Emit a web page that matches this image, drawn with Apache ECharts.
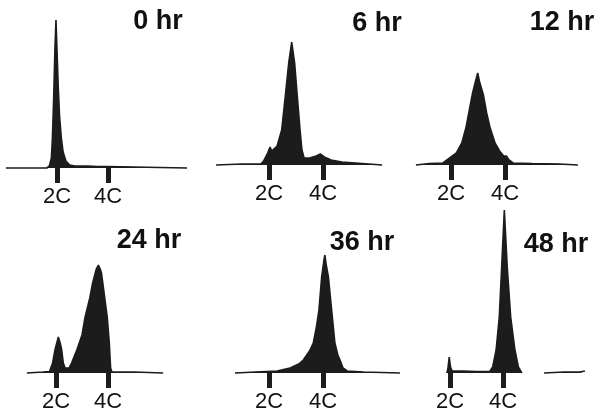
<!DOCTYPE html>
<html>
<head>
<meta charset="utf-8">
<script src="https://cdn.jsdelivr.net/npm/echarts@6/dist/echarts.min.js"></script>
<style>
  html, body { margin: 0; padding: 0; background: #fff; }
  #main { width: 597px; height: 418px; }
</style>
</head>
<body>
<div id="main"></div>
<script>
// panel names
var panelNames = ['0 hr', '6 hr', '12 hr', '24 hr', '36 hr', '48 hr'];
// DNA content ticks (2C, 4C)
var tickValues = [2, 4];
var tickNames = ['2C', '4C'];

// histograms: [DNA content, relative cell count]
var hr0 = [[0, 0], [1.6, 0], [1.7, 2], [1.78, 10], [1.82, 30], [1.87, 70], [1.92, 120], [1.96, 148],
  [2.0, 118], [2.05, 80], [2.1, 52], [2.17, 30], [2.24, 16], [2.35, 7], [2.5, 3], [2.7, 2],
  [3.2, 2], [3.6, 1.5], [3.95, 1.5], [4.0, 0], [7.1, 0]];
var hr6 = [[0.04, 0], [1.0, 1], [1.7, 1], [1.8, 4], [1.95, 12], [2.04, 18], [2.1, 14], [2.16, 13],
  [2.3, 19], [2.47, 35], [2.6, 68], [2.73, 102], [2.84, 123], [2.95, 102], [3.05, 68], [3.15, 35],
  [3.22, 15], [3.3, 7], [3.5, 7], [3.75, 9], [3.9, 11], [4.05, 8], [4.3, 5], [4.7, 3], [5.2, 2],
  [5.7, 1], [6.19, 0]];
var hr12 = [[0.7, 0], [1.2, 1.5], [1.7, 2], [1.8, 4], [1.95, 7], [2.2, 12], [2.4, 22], [2.56, 38],
  [2.7, 58], [2.8, 72], [2.92, 85], [2.99, 92], [3.05, 84], [3.1, 82], [3.2, 70], [3.32, 52],
  [3.44, 38], [3.63, 22], [3.8, 14], [3.95, 9], [4.05, 9], [4.15, 5], [4.3, 2], [5.0, 1.5],
  [6.0, 1], [6.7, 0]];
var hr24 = [[0.88, 0], [1.5, 1], [1.75, 1.5], [1.87, 10], [1.96, 23], [2.09, 36], [2.16, 30],
  [2.22, 23], [2.28, 10], [2.35, 5], [2.41, 3], [2.5, 5], [2.6, 10], [2.8, 23], [3.0, 38],
  [3.12, 56], [3.3, 75], [3.41, 90], [3.55, 104], [3.63, 108], [3.7, 104], [3.75, 100], [3.8, 90],
  [3.9, 70], [3.97, 56], [4.05, 30], [4.1, 5], [4.15, 1], [4.5, 1], [5.0, 1], [6.12, 0]];
var hr36 = [[0.74, 0], [1.5, 1], [2.3, 2], [2.78, 5], [3.1, 9], [3.27, 13], [3.5, 22], [3.64, 30],
  [3.75, 45], [3.85, 63], [3.95, 96], [4.03, 112], [4.07, 118], [4.12, 108], [4.2, 96], [4.32, 63],
  [4.44, 30], [4.55, 18], [4.63, 13], [4.74, 5], [4.9, 2], [5.5, 1], [6.85, 0]];
var hr48 = [[1.88, 0], [1.92, 4], [1.97, 16], [2.02, 6], [2.08, 2], [2.5, 2], [3.0, 1.5], [3.5, 1.5],
  [3.61, 6], [3.74, 23], [3.86, 56], [3.95, 106], [4.05, 163], [4.16, 106], [4.29, 56], [4.45, 23],
  [4.58, 6], [4.71, 0], [4.75, null], [5.55, 0], [6.3, 1], [6.9, 1], [7.09, 2]];
var histograms = [hr0, hr6, hr12, hr24, hr36, hr48];

// where each panel sits: x of 2C, px per unit, baseline y, title centre
var layout = [
  { p2: 57, s: 25.5, base: 168, tx: 158, ty: 22 },
  { p2: 269, s: 27, base: 165, tx: 377, ty: 24 },
  { p2: 451, s: 27, base: 165, tx: 562, ty: 23 },
  { p2: 56, s: 26, base: 373, tx: 149, ty: 241 },
  { p2: 269, s: 27, base: 373, tx: 362, ty: 243 },
  { p2: 450, s: 26.5, base: 373, tx: 556, ty: 245 }
];

var H = 165;
var XMAX = 7.2;
var ink = '#1c1c1c';

var grids = [], xAxes = [], yAxes = [], series = [], texts = [];
for (var i = 0; i < layout.length; i++) {
  var L = layout[i];
  grids.push({ left: L.p2 - 2 * L.s, width: XMAX * L.s, top: L.base - H, height: H });
  xAxes.push({
    type: 'value', gridIndex: i, min: 0, max: XMAX,
    splitLine: { show: false },
    axisLine: { show: false },
    axisTick: { show: true, customValues: tickValues, length: 15, lineStyle: { width: 5, color: ink } },
    axisLabel: {
      show: true, customValues: tickValues, margin: 18,
      fontFamily: 'Liberation Sans', fontSize: 22, color: '#111',
      formatter: function (v) { return tickNames[tickValues.indexOf(v)]; }
    }
  });
  yAxes.push({ type: 'value', gridIndex: i, min: 0, max: H, show: false, splitLine: { show: false } });
  series.push({
    type: 'line', xAxisIndex: i, yAxisIndex: i, data: histograms[i],
    symbol: 'none', clip: false, connectNulls: false,
    lineStyle: { color: ink, width: 1.6 },
    areaStyle: { color: ink, opacity: 1, origin: 'start' }
  });
  texts.push({
    type: 'text', x: L.tx, y: L.ty,
    style: {
      text: panelNames[i], fontFamily: 'Liberation Sans', fontWeight: 'bold', fontSize: 27,
      fill: '#111', align: 'center', verticalAlign: 'middle'
    }
  });
}

var myChart = echarts.init(document.getElementById('main'), null, { renderer: 'canvas' });
var option = {
  backgroundColor: '#fff',
  animation: false,
  grid: grids,
  xAxis: xAxes,
  yAxis: yAxes,
  series: series,
  graphic: texts
};
myChart.setOption(option);
</script>
</body>
</html>
